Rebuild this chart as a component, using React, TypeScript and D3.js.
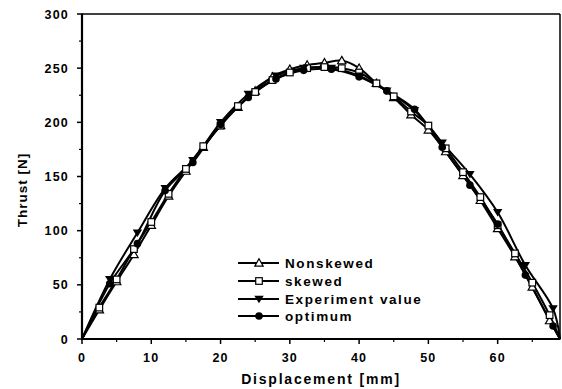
import React from "react";
import * as d3 from "d3";

// Displacement [mm] and thrust [N] samples for each curve
const nonskewedX = [0, 2.5, 5, 7.5, 10, 12.5, 15, 17.5, 20, 22.5, 25, 27.5, 30, 32.5, 35, 37.5, 40, 42.5, 45, 47.5, 50, 52.5, 55, 57.5, 60, 62.5, 65, 67.5, 69];
const nonskewedY = [0, 27, 53, 78, 105, 132, 155, 177, 197, 214, 229, 242, 249, 253, 255, 257, 250, 236, 223, 207, 193, 173, 151, 128, 102, 76, 48, 17, 0];

const skewedX = [0, 2.5, 5, 7.5, 10, 12.5, 15, 17.5, 20, 22.5, 25, 27.5, 30, 32.5, 35, 37.5, 40, 42.5, 45, 47.5, 50, 52.5, 55, 57.5, 60, 62.5, 65, 67.5, 69];
const skewedY = [0, 29, 55, 83, 108, 134, 157, 178, 197, 215, 228, 239, 246, 250, 251, 250, 246, 236, 224, 210, 197, 176, 154, 131, 105, 79, 52, 22, 0];

const experimentX = [0, 4, 8, 12, 16, 20, 24, 28, 32, 36, 40, 44, 48, 52, 56, 60, 64, 68, 69];
const experimentY = [0, 55, 98, 139, 165, 200, 226, 243, 250, 250, 243, 229, 211, 181, 152, 117, 68, 28, 0];

const optimumX = [0, 4, 8, 12, 16, 20, 24, 28, 32, 36, 40, 44, 48, 52, 56, 60, 64, 68, 69];
const optimumY = [0, 51, 88, 137, 163, 198, 223, 240, 248, 249, 242, 229, 212, 177, 142, 106, 59, 12, 0];

const seriesNames = ["Nonskewed", "skewed", "Experiment value", "optimum"];
const markerKinds = ["triangleOpen", "squareOpen", "triangleDownFilled", "circleFilled"];

const xTicks = [0, 10, 20, 30, 40, 50, 60];
const yTicks = [0, 50, 100, 150, 200, 250, 300];

const W = 562;
const H = 389;
const margin = { left: 82, right: 1, top: 14, bottom: 50 };
const FONT = "'Liberation Sans', Arial, sans-serif";

function Marker({ kind, x, y }: { kind: string; x: number; y: number }) {
  const s = 4.2;
  if (kind === "triangleOpen") {
    return (
      <path
        d={`M${x},${y - s} L${x + s},${y + s * 0.75} L${x - s},${y + s * 0.75} Z`}
        fill="white"
        stroke="black"
        strokeWidth={1.2}
      />
    );
  }
  if (kind === "squareOpen") {
    return <rect x={x - 3.3} y={y - 3.3} width={6.6} height={6.6} fill="white" stroke="black" strokeWidth={1.2} />;
  }
  if (kind === "triangleDownFilled") {
    return <path d={`M${x - s - 0.5},${y - s * 0.8} L${x + s + 0.5},${y - s * 0.8} L${x},${y + s} Z`} fill="black" />;
  }
  return <circle cx={x} cy={y} r={3.8} fill="black" />;
}

export default function App() {
  const x = d3.scaleLinear().domain([0, 69]).range([margin.left, W - margin.right - 1]);
  const y = d3.scaleLinear().domain([0, 300]).range([H - margin.bottom, margin.top]);

  const series = [
    { xs: nonskewedX, ys: nonskewedY },
    { xs: skewedX, ys: skewedY },
    { xs: experimentX, ys: experimentY },
    { xs: optimumX, ys: optimumY },
  ];

  const line = d3
    .line<[number, number]>()
    .x((d) => x(d[0]))
    .y((d) => y(d[1]))
    .curve(d3.curveCatmullRom.alpha(0.5));

  const x0 = x(0);
  const x1 = x(69);
  const y0 = y(0);
  const y1 = y(300);

  const xMinor = d3.range(5, 69, 10);
  const yMinor = d3.range(25, 300, 50);

  const legendX = 238;
  const legendYs = [263, 281, 299, 316];

  return (
    <svg width={W} height={H} style={{ position: "absolute", left: 0, top: 0, background: "white" }}>
      {/* frame */}
      <line x1={x0} y1={y1} x2={x1} y2={y1} stroke="black" strokeWidth={1.5} />
      <line x1={x1} y1={y1} x2={x1} y2={y0} stroke="black" strokeWidth={1.5} />
      <line x1={x0} y1={y0} x2={x1 + 0.5} y2={y0} stroke="black" strokeWidth={2} />
      <line x1={x0} y1={y1 - 0.5} x2={x0} y2={y0 + 1} stroke="black" strokeWidth={2.2} />

      {/* x axis ticks and labels */}
      {xTicks.map((t) => (
        <g key={`xt${t}`}>
          <line x1={x(t)} x2={x(t)} y1={y0} y2={y0 + 5} stroke="black" strokeWidth={1.5} />
          <text x={x(t)} y={y0 + 23} textAnchor="middle" fontFamily={FONT} fontWeight="bold" fontSize={12.5} letterSpacing={1.2}>
            {t}
          </text>
        </g>
      ))}
      {xMinor.map((t) => (
        <line key={`xm${t}`} x1={x(t)} x2={x(t)} y1={y0} y2={y0 + 3} stroke="black" strokeWidth={1.2} />
      ))}

      {/* y axis ticks and labels */}
      {yTicks.map((t) => (
        <g key={`yt${t}`}>
          <line x1={x0 - 5} x2={x0} y1={y(t)} y2={y(t)} stroke="black" strokeWidth={1.5} />
          <text x={x0 - 13} y={y(t) + 4.5} textAnchor="end" fontFamily={FONT} fontWeight="bold" fontSize={12.5} letterSpacing={1.2}>
            {t}
          </text>
        </g>
      ))}
      {yMinor.map((t) => (
        <line key={`ym${t}`} x1={x0 - 3} x2={x0} y1={y(t)} y2={y(t)} stroke="black" strokeWidth={1.2} />
      ))}

      {/* axis titles */}
      <text x={(x0 + x1) / 2} y={384} textAnchor="middle" fontFamily={FONT} fontWeight="bold" fontSize={14} letterSpacing={1.8}>
        Displacement [mm]
      </text>
      <text
        transform={`translate(27,190) rotate(-90)`}
        textAnchor="middle"
        fontFamily={FONT}
        fontWeight="bold"
        fontSize={13.5}
        letterSpacing={1}
      >
        Thrust [N]
      </text>

      {/* curves */}
      {series.map((s, i) => {
        const pts = s.xs.map((v, j) => [v, s.ys[j]] as [number, number]);
        return <path key={`l${i}`} d={line(pts) || ""} fill="none" stroke="black" strokeWidth={2} />;
      })}
      {series.map((s, i) =>
        s.xs.map((v, j) =>
          j === 0 || j === s.xs.length - 1 ? null : (
            <Marker key={`m${i}-${j}`} kind={markerKinds[i]} x={x(v)} y={y(s.ys[j])} />
          )
        )
      )}

      {/* legend */}
      {seriesNames.map((name, i) => (
        <g key={`lg${i}`}>
          <line x1={legendX} x2={legendX + 41} y1={legendYs[i]} y2={legendYs[i]} stroke="black" strokeWidth={2} />
          <Marker kind={markerKinds[i]} x={legendX + 21} y={legendYs[i]} />
          <text x={legendX + 47} y={legendYs[i] + 5} fontFamily={FONT} fontWeight="bold" fontSize={13.5} letterSpacing={1.6}>
            {name}
          </text>
        </g>
      ))}
    </svg>
  );
}
